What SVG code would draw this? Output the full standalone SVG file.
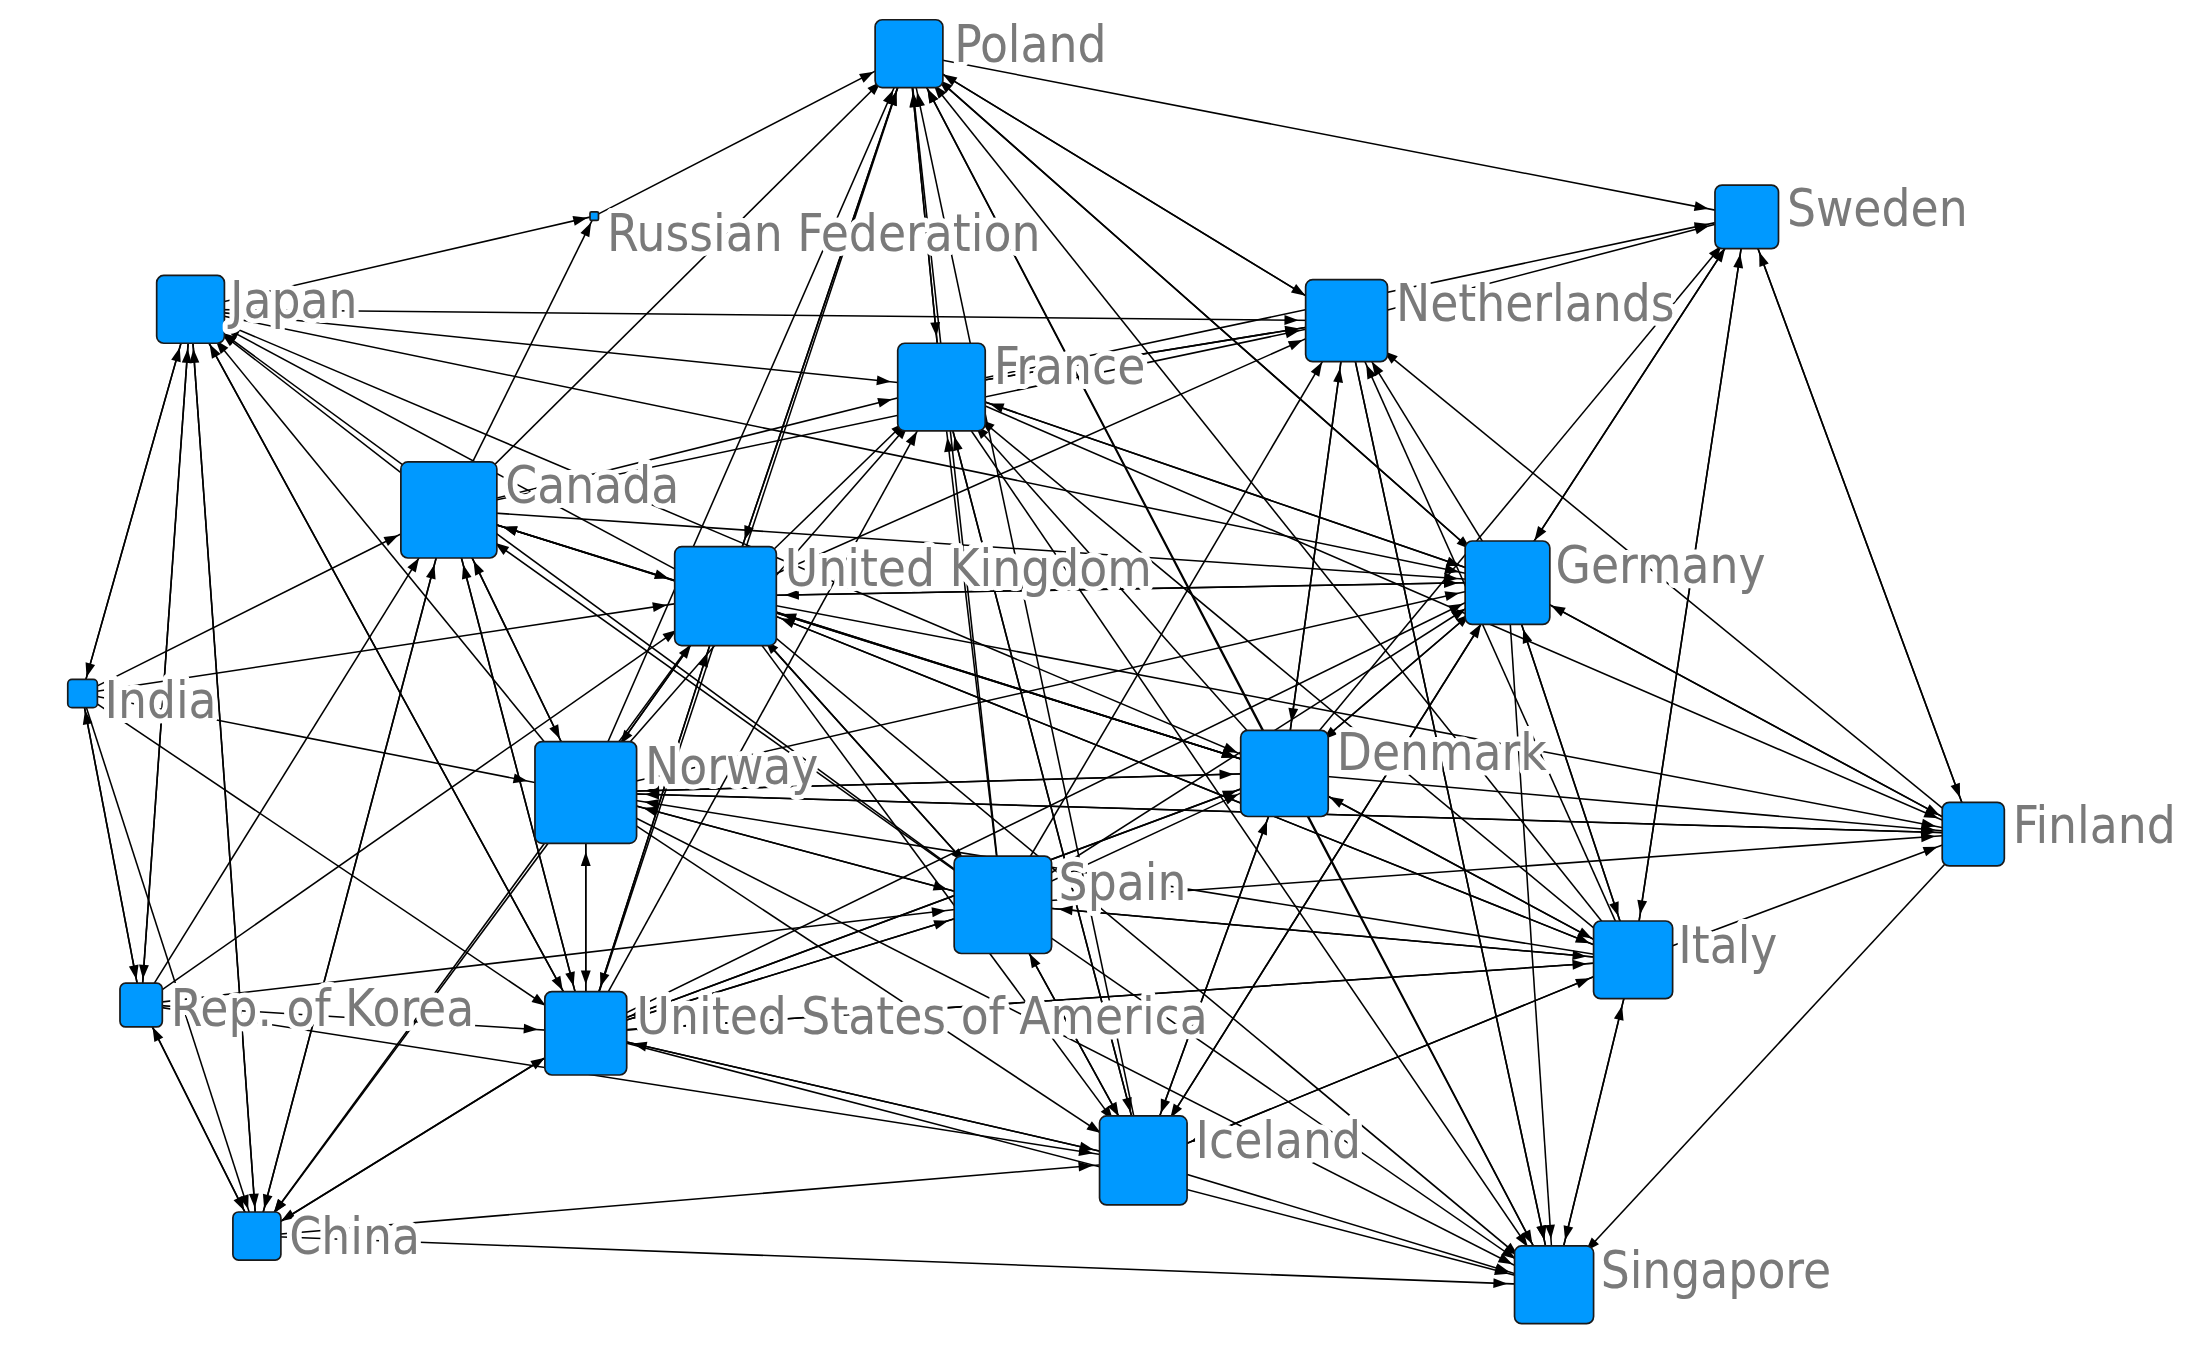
<svg xmlns="http://www.w3.org/2000/svg" width="2202" height="1349" viewBox="0 0 2202 1349">
<style>
.e line{stroke:#000;stroke-width:1.1}
.n rect{fill:#0099ff;stroke:#1a1a1a;stroke-width:1.2}
.n text{font-family:"DejaVu Sans Condensed","Liberation Sans Narrow","Liberation Sans",sans-serif;font-size:36px;fill:#7a7a7a;stroke:#fff;stroke-width:7;paint-order:stroke;stroke-linejoin:round}
</style>
<defs>
<marker id="mP" markerUnits="userSpaceOnUse" overflow="visible" orient="auto" refX="38" refY="0" markerWidth="1" markerHeight="1"><path d="M0,-3.5L10,0L0,3.5z"/></marker>
<marker id="mS" markerUnits="userSpaceOnUse" overflow="visible" orient="auto" refX="37" refY="0" markerWidth="1" markerHeight="1"><path d="M0,-3.5L10,0L0,3.5z"/></marker>
<marker id="mR" markerUnits="userSpaceOnUse" overflow="visible" orient="auto" refX="15" refY="0" markerWidth="1" markerHeight="1"><path d="M0,-3.5L10,0L0,3.5z"/></marker>
<marker id="mJ" markerUnits="userSpaceOnUse" overflow="visible" orient="auto" refX="38" refY="0" markerWidth="1" markerHeight="1"><path d="M0,-3.5L10,0L0,3.5z"/></marker>
<marker id="mN" markerUnits="userSpaceOnUse" overflow="visible" orient="auto" refX="44" refY="0" markerWidth="1" markerHeight="1"><path d="M0,-3.5L10,0L0,3.5z"/></marker>
<marker id="mF" markerUnits="userSpaceOnUse" overflow="visible" orient="auto" refX="46" refY="0" markerWidth="1" markerHeight="1"><path d="M0,-3.5L10,0L0,3.5z"/></marker>
<marker id="mC" markerUnits="userSpaceOnUse" overflow="visible" orient="auto" refX="50" refY="0" markerWidth="1" markerHeight="1"><path d="M0,-3.5L10,0L0,3.5z"/></marker>
<marker id="mU" markerUnits="userSpaceOnUse" overflow="visible" orient="auto" refX="52" refY="0" markerWidth="1" markerHeight="1"><path d="M0,-3.5L10,0L0,3.5z"/></marker>
<marker id="mG" markerUnits="userSpaceOnUse" overflow="visible" orient="auto" refX="45" refY="0" markerWidth="1" markerHeight="1"><path d="M0,-3.5L10,0L0,3.5z"/></marker>
<marker id="mI" markerUnits="userSpaceOnUse" overflow="visible" orient="auto" refX="22" refY="0" markerWidth="1" markerHeight="1"><path d="M0,-3.5L10,0L0,3.5z"/></marker>
<marker id="mO" markerUnits="userSpaceOnUse" overflow="visible" orient="auto" refX="52" refY="0" markerWidth="1" markerHeight="1"><path d="M0,-3.5L10,0L0,3.5z"/></marker>
<marker id="mD" markerUnits="userSpaceOnUse" overflow="visible" orient="auto" refX="46" refY="0" markerWidth="1" markerHeight="1"><path d="M0,-3.5L10,0L0,3.5z"/></marker>
<marker id="mFi" markerUnits="userSpaceOnUse" overflow="visible" orient="auto" refX="37" refY="0" markerWidth="1" markerHeight="1"><path d="M0,-3.5L10,0L0,3.5z"/></marker>
<marker id="mSp" markerUnits="userSpaceOnUse" overflow="visible" orient="auto" refX="50" refY="0" markerWidth="1" markerHeight="1"><path d="M0,-3.5L10,0L0,3.5z"/></marker>
<marker id="mIt" markerUnits="userSpaceOnUse" overflow="visible" orient="auto" refX="43" refY="0" markerWidth="1" markerHeight="1"><path d="M0,-3.5L10,0L0,3.5z"/></marker>
<marker id="mK" markerUnits="userSpaceOnUse" overflow="visible" orient="auto" refX="28" refY="0" markerWidth="1" markerHeight="1"><path d="M0,-3.5L10,0L0,3.5z"/></marker>
<marker id="mA" markerUnits="userSpaceOnUse" overflow="visible" orient="auto" refX="44" refY="0" markerWidth="1" markerHeight="1"><path d="M0,-3.5L10,0L0,3.5z"/></marker>
<marker id="mIc" markerUnits="userSpaceOnUse" overflow="visible" orient="auto" refX="46" refY="0" markerWidth="1" markerHeight="1"><path d="M0,-3.5L10,0L0,3.5z"/></marker>
<marker id="mCh" markerUnits="userSpaceOnUse" overflow="visible" orient="auto" refX="30" refY="0" markerWidth="1" markerHeight="1"><path d="M0,-3.5L10,0L0,3.5z"/></marker>
<marker id="mSi" markerUnits="userSpaceOnUse" overflow="visible" orient="auto" refX="43" refY="0" markerWidth="1" markerHeight="1"><path d="M0,-3.5L10,0L0,3.5z"/></marker>
</defs>
<rect width="2202" height="1349" fill="#fff"/>
<g transform="scale(1.4115 1.4126)">
<g id="connectors" class="e">
<!-- into Poland -->
<line x1="318" y1="361" x2="644" y2="38" marker-end="url(#mP)"/>
<line x1="514" y1="422" x2="644" y2="38" marker-end="url(#mP)"/>
<line x1="415" y1="561" x2="644" y2="38" marker-end="url(#mP)"/>
<line x1="415" y1="731" x2="644" y2="38" marker-end="url(#mP)"/>
<line x1="710" y1="640" x2="644" y2="38" marker-end="url(#mP)"/>
<line x1="667" y1="274" x2="644" y2="38" marker-end="url(#mP)"/>
<line x1="1068" y1="412" x2="644" y2="38" marker-end="url(#mP)"/>
<line x1="954" y1="227" x2="644" y2="38" marker-end="url(#mP)"/>
<line x1="910" y1="547" x2="644" y2="38" marker-end="url(#mP)"/>
<line x1="1157" y1="680" x2="644" y2="38" marker-end="url(#mP)"/>
<line x1="810" y1="822" x2="644" y2="38" marker-end="url(#mP)"/>
<line x1="1101" y1="910" x2="644" y2="38" marker-end="url(#mP)"/>
<line x1="421" y1="153" x2="644" y2="38" marker-end="url(#mP)"/>
<!-- from Poland -->
<line x1="644" y1="38" x2="1237" y2="153" marker-end="url(#mS)"/>
<line x1="644" y1="38" x2="667" y2="274" marker-end="url(#mF)"/>
<line x1="644" y1="38" x2="954" y2="227" marker-end="url(#mN)"/>
<line x1="644" y1="38" x2="1068" y2="412" marker-end="url(#mG)"/>
<line x1="644" y1="38" x2="514" y2="422" marker-end="url(#mU)"/>
<!-- Russian Federation -->
<line x1="135" y1="219" x2="421" y2="153" marker-end="url(#mR)"/>
<line x1="318" y1="361" x2="421" y2="153" marker-end="url(#mR)"/>
<!-- from Japan -->
<line x1="135" y1="219" x2="954" y2="227" marker-end="url(#mN)"/>
<line x1="135" y1="219" x2="667" y2="274" marker-end="url(#mF)"/>
<line x1="135" y1="219" x2="1068" y2="412" marker-end="url(#mG)"/>
<line x1="135" y1="219" x2="910" y2="547" marker-end="url(#mD)"/>
<line x1="135" y1="219" x2="58" y2="491" marker-end="url(#mI)"/>
<line x1="135" y1="219" x2="100" y2="711" marker-end="url(#mK)"/>
<!-- into Japan -->
<line x1="58" y1="491" x2="135" y2="219" marker-end="url(#mJ)"/>
<line x1="100" y1="711" x2="135" y2="219" marker-end="url(#mJ)"/>
<line x1="182" y1="875" x2="135" y2="219" marker-end="url(#mJ)"/>
<line x1="318" y1="361" x2="135" y2="219" marker-end="url(#mJ)"/>
<line x1="514" y1="422" x2="135" y2="219" marker-end="url(#mJ)"/>
<line x1="415" y1="561" x2="135" y2="219" marker-end="url(#mJ)"/>
<line x1="415" y1="731" x2="135" y2="219" marker-end="url(#mJ)"/>
<line x1="710" y1="640" x2="135" y2="219" marker-end="url(#mJ)"/>
<!-- Sweden -->
<line x1="954" y1="227" x2="1237" y2="153" marker-end="url(#mS)"/>
<line x1="1068" y1="412" x2="1237" y2="153" marker-end="url(#mS)"/>
<line x1="667" y1="274" x2="1237" y2="153" marker-end="url(#mS)"/>
<line x1="1157" y1="680" x2="1237" y2="153" marker-end="url(#mS)"/>
<line x1="910" y1="547" x2="1237" y2="153" marker-end="url(#mS)"/>
<line x1="1237" y1="153" x2="1398" y2="590" marker-end="url(#mFi)"/>
<line x1="1237" y1="153" x2="1157" y2="680" marker-end="url(#mIt)"/>
<line x1="1237" y1="153" x2="1068" y2="412" marker-end="url(#mG)"/>
<line x1="1398" y1="590" x2="1237" y2="153" marker-end="url(#mS)"/>
<!-- Netherlands -->
<line x1="318" y1="361" x2="954" y2="227" marker-end="url(#mN)"/>
<line x1="667" y1="274" x2="954" y2="227" marker-end="url(#mN)"/>
<line x1="514" y1="422" x2="954" y2="227" marker-end="url(#mN)"/>
<line x1="1068" y1="412" x2="954" y2="227" marker-end="url(#mN)"/>
<line x1="910" y1="547" x2="954" y2="227" marker-end="url(#mN)"/>
<line x1="1157" y1="680" x2="954" y2="227" marker-end="url(#mN)"/>
<line x1="1398" y1="590" x2="954" y2="227" marker-end="url(#mN)"/>
<line x1="710" y1="640" x2="954" y2="227" marker-end="url(#mN)"/>
<line x1="954" y1="227" x2="910" y2="547" marker-end="url(#mD)"/>
<line x1="954" y1="227" x2="1101" y2="910" marker-end="url(#mSi)"/>
<!-- France -->
<line x1="318" y1="361" x2="667" y2="274" marker-end="url(#mF)"/>
<line x1="514" y1="422" x2="667" y2="274" marker-end="url(#mF)"/>
<line x1="415" y1="561" x2="667" y2="274" marker-end="url(#mF)"/>
<line x1="710" y1="640" x2="667" y2="274" marker-end="url(#mF)"/>
<line x1="1068" y1="412" x2="667" y2="274" marker-end="url(#mF)"/>
<line x1="910" y1="547" x2="667" y2="274" marker-end="url(#mF)"/>
<line x1="1157" y1="680" x2="667" y2="274" marker-end="url(#mF)"/>
<line x1="415" y1="731" x2="667" y2="274" marker-end="url(#mF)"/>
<line x1="954" y1="227" x2="667" y2="274" marker-end="url(#mF)"/>
<line x1="810" y1="822" x2="667" y2="274" marker-end="url(#mF)"/>
<line x1="667" y1="274" x2="1068" y2="412" marker-end="url(#mG)"/>
<line x1="667" y1="274" x2="1398" y2="590" marker-end="url(#mFi)"/>
<!-- Canada -->
<line x1="58" y1="491" x2="318" y2="361" marker-end="url(#mC)"/>
<line x1="100" y1="711" x2="318" y2="361" marker-end="url(#mC)"/>
<line x1="182" y1="875" x2="318" y2="361" marker-end="url(#mC)"/>
<line x1="514" y1="422" x2="318" y2="361" marker-end="url(#mC)"/>
<line x1="415" y1="561" x2="318" y2="361" marker-end="url(#mC)"/>
<line x1="415" y1="731" x2="318" y2="361" marker-end="url(#mC)"/>
<line x1="710" y1="640" x2="318" y2="361" marker-end="url(#mC)"/>
<line x1="910" y1="547" x2="318" y2="361" marker-end="url(#mC)"/>
<line x1="318" y1="361" x2="514" y2="422" marker-end="url(#mU)"/>
<line x1="318" y1="361" x2="415" y2="561" marker-end="url(#mO)"/>
<line x1="318" y1="361" x2="415" y2="731" marker-end="url(#mA)"/>
<line x1="318" y1="361" x2="1068" y2="412" marker-end="url(#mG)"/>
<line x1="318" y1="361" x2="910" y2="547" marker-end="url(#mD)"/>
<!-- UK -->
<line x1="58" y1="491" x2="514" y2="422" marker-end="url(#mU)"/>
<line x1="100" y1="711" x2="514" y2="422" marker-end="url(#mU)"/>
<line x1="415" y1="561" x2="514" y2="422" marker-end="url(#mU)"/>
<line x1="710" y1="640" x2="514" y2="422" marker-end="url(#mU)"/>
<line x1="910" y1="547" x2="514" y2="422" marker-end="url(#mU)"/>
<line x1="1157" y1="680" x2="514" y2="422" marker-end="url(#mU)"/>
<line x1="415" y1="731" x2="514" y2="422" marker-end="url(#mU)"/>
<line x1="1068" y1="412" x2="514" y2="422" marker-end="url(#mU)"/>
<line x1="514" y1="422" x2="415" y2="561" marker-end="url(#mO)"/>
<line x1="514" y1="422" x2="710" y2="640" marker-end="url(#mSp)"/>
<line x1="514" y1="422" x2="1068" y2="412" marker-end="url(#mG)"/>
<line x1="514" y1="422" x2="1157" y2="680" marker-end="url(#mIt)"/>
<line x1="514" y1="422" x2="1398" y2="590" marker-end="url(#mFi)"/>
<line x1="514" y1="422" x2="910" y2="547" marker-end="url(#mD)"/>
<line x1="514" y1="422" x2="810" y2="822" marker-end="url(#mIc)"/>
<!-- Germany -->
<line x1="415" y1="561" x2="1068" y2="412" marker-end="url(#mG)"/>
<line x1="710" y1="640" x2="1068" y2="412" marker-end="url(#mG)"/>
<line x1="910" y1="547" x2="1068" y2="412" marker-end="url(#mG)"/>
<line x1="1157" y1="680" x2="1068" y2="412" marker-end="url(#mG)"/>
<line x1="1398" y1="590" x2="1068" y2="412" marker-end="url(#mG)"/>
<line x1="415" y1="731" x2="1068" y2="412" marker-end="url(#mG)"/>
<line x1="810" y1="822" x2="1068" y2="412" marker-end="url(#mG)"/>
<line x1="1068" y1="412" x2="1157" y2="680" marker-end="url(#mIt)"/>
<line x1="1068" y1="412" x2="1101" y2="910" marker-end="url(#mSi)"/>
<line x1="1068" y1="412" x2="1398" y2="590" marker-end="url(#mFi)"/>
<!-- Norway -->
<line x1="58" y1="491" x2="415" y2="561" marker-end="url(#mO)"/>
<line x1="910" y1="547" x2="415" y2="561" marker-end="url(#mO)"/>
<line x1="710" y1="640" x2="415" y2="561" marker-end="url(#mO)"/>
<line x1="1398" y1="590" x2="415" y2="561" marker-end="url(#mO)"/>
<line x1="1157" y1="680" x2="415" y2="561" marker-end="url(#mO)"/>
<line x1="415" y1="731" x2="415" y2="561" marker-end="url(#mO)"/>
<line x1="415" y1="561" x2="415" y2="731" marker-end="url(#mA)"/>
<line x1="415" y1="561" x2="710" y2="640" marker-end="url(#mSp)"/>
<line x1="415" y1="561" x2="910" y2="547" marker-end="url(#mD)"/>
<line x1="415" y1="561" x2="1398" y2="590" marker-end="url(#mFi)"/>
<line x1="415" y1="561" x2="810" y2="822" marker-end="url(#mIc)"/>
<line x1="415" y1="561" x2="1101" y2="910" marker-end="url(#mSi)"/>
<!-- Denmark -->
<line x1="710" y1="640" x2="910" y2="547" marker-end="url(#mD)"/>
<line x1="1157" y1="680" x2="910" y2="547" marker-end="url(#mD)"/>
<line x1="810" y1="822" x2="910" y2="547" marker-end="url(#mD)"/>
<line x1="1068" y1="412" x2="910" y2="547" marker-end="url(#mD)"/>
<line x1="415" y1="731" x2="910" y2="547" marker-end="url(#mD)"/>
<line x1="910" y1="547" x2="1398" y2="590" marker-end="url(#mFi)"/>
<line x1="910" y1="547" x2="810" y2="822" marker-end="url(#mIc)"/>
<line x1="910" y1="547" x2="1101" y2="910" marker-end="url(#mSi)"/>
<line x1="910" y1="547" x2="1157" y2="680" marker-end="url(#mIt)"/>
<!-- Finland -->
<line x1="710" y1="640" x2="1398" y2="590" marker-end="url(#mFi)"/>
<line x1="1157" y1="680" x2="1398" y2="590" marker-end="url(#mFi)"/>
<line x1="1398" y1="590" x2="1101" y2="910" marker-end="url(#mSi)"/>
<!-- Spain -->
<line x1="1157" y1="680" x2="710" y2="640" marker-end="url(#mSp)"/>
<line x1="415" y1="731" x2="710" y2="640" marker-end="url(#mSp)"/>
<line x1="810" y1="822" x2="710" y2="640" marker-end="url(#mSp)"/>
<line x1="100" y1="711" x2="710" y2="640" marker-end="url(#mSp)"/>
<line x1="710" y1="640" x2="415" y2="731" marker-end="url(#mA)"/>
<line x1="710" y1="640" x2="810" y2="822" marker-end="url(#mIc)"/>
<line x1="710" y1="640" x2="1101" y2="910" marker-end="url(#mSi)"/>
<line x1="710" y1="640" x2="1157" y2="680" marker-end="url(#mIt)"/>
<!-- Italy -->
<line x1="810" y1="822" x2="1157" y2="680" marker-end="url(#mIt)"/>
<line x1="415" y1="731" x2="1157" y2="680" marker-end="url(#mIt)"/>
<line x1="1101" y1="910" x2="1157" y2="680" marker-end="url(#mIt)"/>
<line x1="1157" y1="680" x2="1101" y2="910" marker-end="url(#mSi)"/>
<line x1="1157" y1="680" x2="415" y2="731" marker-end="url(#mA)"/>
<!-- Korea / India / China -->
<line x1="182" y1="875" x2="100" y2="711" marker-end="url(#mK)"/>
<line x1="58" y1="491" x2="100" y2="711" marker-end="url(#mK)"/>
<line x1="100" y1="711" x2="58" y2="491" marker-end="url(#mI)"/>
<line x1="100" y1="711" x2="182" y2="875" marker-end="url(#mCh)"/>
<line x1="58" y1="491" x2="182" y2="875" marker-end="url(#mCh)"/>
<line x1="135" y1="219" x2="182" y2="875" marker-end="url(#mCh)"/>
<line x1="514" y1="422" x2="182" y2="875" marker-end="url(#mCh)"/>
<line x1="318" y1="361" x2="182" y2="875" marker-end="url(#mCh)"/>
<line x1="415" y1="561" x2="182" y2="875" marker-end="url(#mCh)"/>
<line x1="415" y1="731" x2="182" y2="875" marker-end="url(#mCh)"/>
<!-- USA -->
<line x1="100" y1="711" x2="415" y2="731" marker-end="url(#mA)"/>
<line x1="182" y1="875" x2="415" y2="731" marker-end="url(#mA)"/>
<line x1="58" y1="491" x2="415" y2="731" marker-end="url(#mA)"/>
<line x1="135" y1="219" x2="415" y2="731" marker-end="url(#mA)"/>
<line x1="514" y1="422" x2="415" y2="731" marker-end="url(#mA)"/>
<line x1="810" y1="822" x2="415" y2="731" marker-end="url(#mA)"/>
<line x1="910" y1="547" x2="415" y2="731" marker-end="url(#mA)"/>
<line x1="415" y1="731" x2="810" y2="822" marker-end="url(#mIc)"/>
<line x1="415" y1="731" x2="1101" y2="910" marker-end="url(#mSi)"/>
<!-- Iceland -->
<line x1="182" y1="875" x2="810" y2="822" marker-end="url(#mIc)"/>
<line x1="100" y1="711" x2="810" y2="822" marker-end="url(#mIc)"/>
<line x1="1157" y1="680" x2="810" y2="822" marker-end="url(#mIc)"/>
<line x1="1068" y1="412" x2="810" y2="822" marker-end="url(#mIc)"/>
<line x1="667" y1="274" x2="810" y2="822" marker-end="url(#mIc)"/>
<line x1="810" y1="822" x2="1101" y2="910" marker-end="url(#mSi)"/>
<!-- Singapore -->
<line x1="182" y1="875" x2="1101" y2="910" marker-end="url(#mSi)"/>
<line x1="954" y1="227" x2="1101" y2="910" marker-end="url(#mSi)"/>
<line x1="514" y1="422" x2="1101" y2="910" marker-end="url(#mSi)"/>
<line x1="667" y1="274" x2="1101" y2="910" marker-end="url(#mSi)"/>
</g>
<g id="n-poland" class="n"><rect x="620" y="14" width="48" height="48" rx="5"/><text x="676" y="44">Poland</text></g>
<g id="n-sweden" class="n"><rect x="1215" y="131" width="45" height="45" rx="5"/><text x="1266" y="160">Sweden</text></g>
<g id="n-russia" class="n"><rect x="418" y="150" width="6" height="6" rx="1"/><text x="430" y="178">Russian Federation</text></g>
<g id="n-japan" class="n"><rect x="111" y="195" width="48" height="48" rx="5"/><text x="163" y="225">Japan</text></g>
<g id="n-netherlands" class="n"><rect x="925" y="198" width="58" height="58" rx="5"/><text x="989" y="227">Netherlands</text></g>
<g id="n-france" class="n"><rect x="636" y="243" width="62" height="62" rx="5"/><text x="704" y="272">France</text></g>
<g id="n-canada" class="n"><rect x="284" y="327" width="68" height="68" rx="5"/><text x="358" y="356">Canada</text></g>
<g id="n-uk" class="n"><rect x="478" y="387" width="72" height="70" rx="5"/><text x="556" y="415">United Kingdom</text></g>
<g id="n-germany" class="n"><rect x="1038" y="383" width="60" height="59" rx="5"/><text x="1102" y="413">Germany</text></g>
<g id="n-india" class="n"><rect x="48" y="481" width="21" height="20" rx="3"/><text x="74" y="508">India</text></g>
<g id="n-norway" class="n"><rect x="379" y="525" width="72" height="72" rx="5"/><text x="457" y="555">Norway</text></g>
<g id="n-denmark" class="n"><rect x="879" y="517" width="62" height="61" rx="5"/><text x="947" y="545">Denmark</text></g>
<g id="n-finland" class="n"><rect x="1376" y="568" width="44" height="45" rx="5"/><text x="1426" y="597">Finland</text></g>
<g id="n-spain" class="n"><rect x="676" y="606" width="69" height="69" rx="5"/><text x="750" y="637">Spain</text></g>
<g id="n-italy" class="n"><rect x="1129" y="652" width="56" height="55" rx="5"/><text x="1189" y="682">Italy</text></g>
<g id="n-korea" class="n"><rect x="85" y="696" width="30" height="31" rx="4"/><text x="121" y="726">Rep. of Korea</text></g>
<g id="n-usa" class="n"><rect x="386" y="702" width="58" height="59" rx="5"/><text x="451" y="732">United States of America</text></g>
<g id="n-iceland" class="n"><rect x="779" y="790" width="62" height="63" rx="5"/><text x="847" y="820">Iceland</text></g>
<g id="n-china" class="n"><rect x="165" y="858" width="34" height="34" rx="4"/><text x="205" y="888">China</text></g>
<g id="n-singapore" class="n"><rect x="1073" y="882" width="56" height="55" rx="5"/><text x="1134" y="912">Singapore</text></g>
</g>
</svg>
